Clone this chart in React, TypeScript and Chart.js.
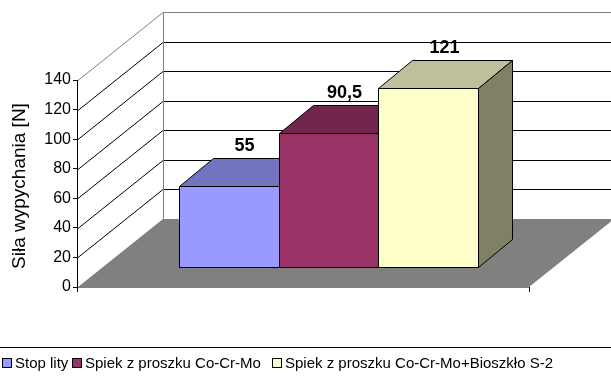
import React, { useEffect, useRef } from "react";
import { Chart, registerables } from "chart.js";

Chart.register(...registerables);

const categories = [""];
const seriesNames = [
  "Stop lity",
  "Spiek z proszku Co-Cr-Mo",
  "Spiek z proszku Co-Cr-Mo+Bioszkło S-2",
];
const seriesValues = [55, 90.5, 121];
const yTicks = [0, 20, 40, 60, 80, 100, 120, 140];
const axisTitle = "Siła wypychania [N]";

const frontColors = ["#9999FF", "#993366", "#FFFFCC"];
const topColors = ["#7373BF", "#73264D", "#BFBF99"];
const sideColors = ["#4D4D80", "#4D1A33", "#808066"];

const FONT = "'Liberation Sans', Arial, sans-serif";

// 3D geometry (styles)
const WX = 85, WY = -68; // wall depth
const FX = 25, FY = -20; // bar front plane offset
const BX = 34, BY = -28; // bar depth
const LEGEND_X = [2, 72, 272];

function poly(ctx: CanvasRenderingContext2D, pts: number[][], fill: string | null, stroke: string | null) {
  ctx.beginPath();
  ctx.moveTo(pts[0][0], pts[0][1]);
  for (let i = 1; i < pts.length; i++) ctx.lineTo(pts[i][0], pts[i][1]);
  ctx.closePath();
  if (fill) {
    ctx.fillStyle = fill;
    ctx.fill();
  }
  if (stroke) {
    ctx.strokeStyle = stroke;
    ctx.lineWidth = 1;
    ctx.stroke();
  }
}

function line(ctx: CanvasRenderingContext2D, x1: number, y1: number, x2: number, y2: number, color: string) {
  ctx.beginPath();
  ctx.moveTo(x1, y1);
  ctx.lineTo(x2, y2);
  ctx.strokeStyle = color;
  ctx.lineWidth = 1;
  ctx.stroke();
}

const threeD = {
  id: "threeD",
  beforeDatasetsDraw(chart: any) {
    const ctx: CanvasRenderingContext2D = chart.ctx;
    const { left, right } = chart.chartArea;
    const y = chart.scales.y;
    const y0 = y.getPixelForValue(0);
    const yTop = y.getPixelForValue(yTicks[yTicks.length - 1]);
    ctx.save();
    // floor
    poly(
      ctx,
      [
        [left, y0],
        [right, y0],
        [right + WX, y0 + WY],
        [left + WX, y0 + WY],
      ],
      "#808080",
      null
    );
    // gridlines on walls
    yTicks.forEach((v, i) => {
      const py = Math.round(y.getPixelForValue(v)) + 0.5;
      const isTop = i === yTicks.length - 1;
      const col = isTop ? "#808080" : "#000000";
      if (v !== 0) {
        line(ctx, left, py, left + WX, py + WY, col);
        line(ctx, left + WX, py + WY, right + WX + 10, py + WY, col);
      }
    });
    // back wall left edge
    line(ctx, left + WX + 0.5, Math.round(yTop) + WY + 0.5, left + WX + 0.5, y0 + WY, "#808080");

    // bars
    chart.data.datasets.forEach((ds: any, i: number) => {
      const meta = chart.getDatasetMeta(i);
      meta.data.forEach((el: any) => {
        const p = el.getProps(["x", "y", "base", "width"], true);
        const x1 = Math.round(p.x - p.width / 2 + FX) + 0.5;
        const x2 = Math.round(p.x + p.width / 2 + FX) + 0.5;
        const t = Math.round(p.y + FY) + 0.5;
        const b = Math.round(p.base + FY) + 0.5;
        poly(ctx, [[x1, t], [x2, t], [x2, b], [x1, b]], frontColors[i], "#000");
        poly(ctx, [[x1, t], [x1 + BX, t + BY], [x2 + BX, t + BY], [x2, t]], topColors[i], "#000");
        poly(ctx, [[x2, t], [x2 + BX, t + BY], [x2 + BX, b + BY], [x2, b]], sideColors[i], "#000");
      });
    });
    // data labels
    ctx.font = `bold 18px ${FONT}`;
    ctx.fillStyle = "#000";
    ctx.textAlign = "center";
    ctx.textBaseline = "middle";
    chart.data.datasets.forEach((ds: any, i: number) => {
      const meta = chart.getDatasetMeta(i);
      meta.data.forEach((el: any, j: number) => {
        const p = el.getProps(["x", "y"], true);
        const txt = String(ds.data[j]).replace(".", ",");
        ctx.fillText(txt, p.x + FX + BX / 2 - 1, p.y + FY + BY - 12);
      });
    });
    ctx.restore();
    return false;
  },
  afterDraw(chart: any) {
    const ctx: CanvasRenderingContext2D = chart.ctx;
    const { left, right } = chart.chartArea;
    const y = chart.scales.y;
    const y0 = y.getPixelForValue(0);
    const yTop = y.getPixelForValue(yTicks[yTicks.length - 1]);
    ctx.save();
    // axis line and end ticks
    line(ctx, left - 0.5, Math.round(yTop), left - 0.5, y0 + 5, "#000");
    line(ctx, right + 0.5, y0, right + 0.5, y0 + 5, "#000");
    line(ctx, left, y0 + 0.5, right, y0 + 0.5, "#808080");

    // axis title
    ctx.save();
    ctx.translate(20, 186);
    ctx.rotate(-Math.PI / 2);
    ctx.font = `19px ${FONT}`;
    ctx.fillStyle = "#000";
    ctx.textAlign = "center";
    ctx.textBaseline = "middle";
    ctx.fillText(axisTitle, 0, 0);
    ctx.restore();

    // legend
    line(ctx, 0, 347.5, chart.width, 347.5, "#000");
    ctx.font = `15px ${FONT}`;
    ctx.textAlign = "left";
    ctx.textBaseline = "alphabetic";
    seriesNames.forEach((name, i) => {
      const x = LEGEND_X[i];
      ctx.fillStyle = frontColors[i];
      ctx.fillRect(x + 0.5, 358.5, 9, 9);
      ctx.strokeStyle = "#000";
      ctx.lineWidth = 1;
      ctx.strokeRect(x + 0.5, 358.5, 9, 9);
      ctx.fillStyle = "#000";
      ctx.fillText(name, x + 13, 368);
    });
    ctx.restore();
  },
};

export default function App() {
  const ref = useRef<HTMLCanvasElement>(null);
  useEffect(() => {
    document.body.style.margin = "0";
    const chart = new Chart(ref.current as HTMLCanvasElement, {
      type: "bar",
      data: {
        labels: categories,
        datasets: seriesNames.map((name, i) => ({
          label: name,
          data: [seriesValues[i]],
          backgroundColor: frontColors[i],
          borderColor: "#000",
          borderWidth: 1,
          categoryPercentage: 0.665,
          barPercentage: 1,
        })),
      },
      options: {
        responsive: false,
        animation: false,
        devicePixelRatio: 1,
        layout: { padding: { top: 80, bottom: 89, right: 82, left: 0 } },
        plugins: { legend: { display: false }, tooltip: { enabled: false } },
        scales: {
          x: { display: false },
          y: {
            min: 0,
            max: 140,
            afterBuildTicks: (s: any) => {
              s.ticks = yTicks.map((v) => ({ value: v }));
            },
            afterFit: (s: any) => {
              s.width = 78;
            },
            grid: { drawOnChartArea: false, drawTicks: true, tickLength: 5, color: "#000" },
            border: { display: false },
            ticks: { font: { family: FONT, size: 16 }, color: "#000", padding: 2 },
          },
        },
      },
      plugins: [threeD],
    } as any);
    return () => chart.destroy();
  }, []);
  return (
    <div style={{ position: "absolute", left: 0, top: 0, width: 611, height: 376 }}>
      <canvas ref={ref} width={611} height={376} />
    </div>
  );
}
